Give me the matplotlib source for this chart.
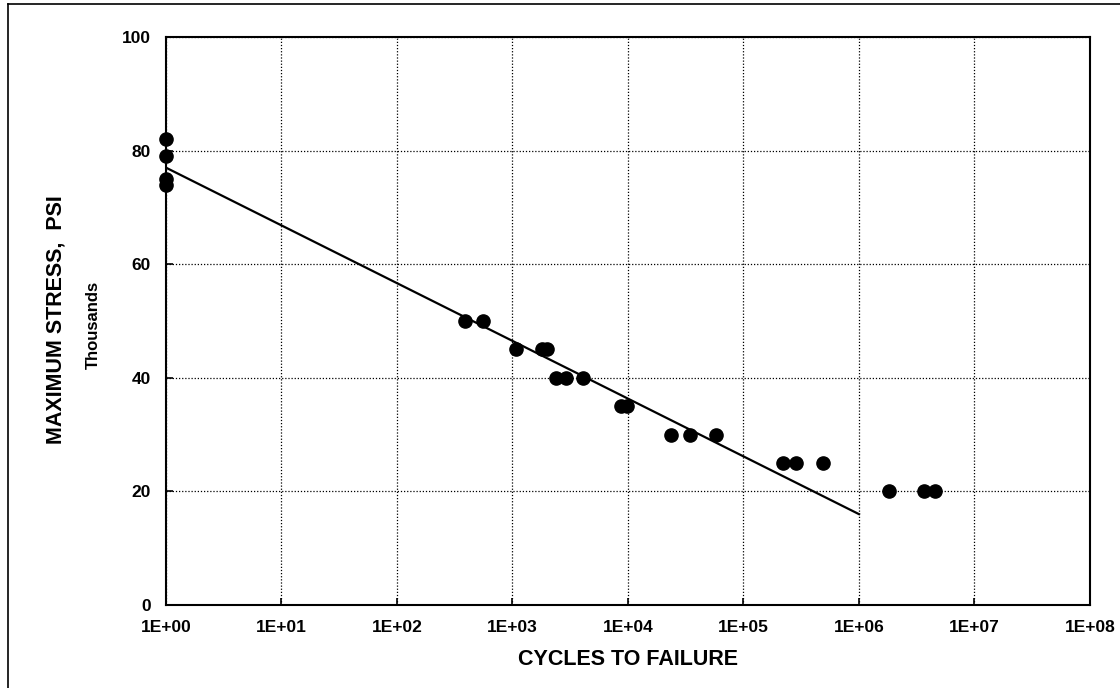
import matplotlib
matplotlib.use("Agg")
import matplotlib.pyplot as plt
from matplotlib.lines import Line2D
from matplotlib.ticker import FixedLocator, FuncFormatter, NullLocator

# fatigue test results: cycles to failure vs maximum stress (thousands of psi)
cycles = [1, 1, 1, 1,
          390, 555,
          1070, 1800, 1990,
          2380, 2900, 4080,
          8700, 9800,
          23500, 34400, 57800,
          220000, 285000, 488000,
          1820000, 3650000, 4550000]
stress = [82, 79, 75, 74,
          50, 50,
          45, 45, 45,
          40, 40, 40,
          35, 35,
          30, 30, 30,
          25, 25, 25,
          20, 20, 20]

# straight-line S-N fit
fit_cycles = [1, 1e6]
fit_stress = [77.0, 16.0]

x_ticks = [10.0 ** k for k in range(9)]
y_ticks = [0, 20, 40, 60, 80, 100]

plt.rcParams["font.family"] = ["Liberation Sans", "DejaVu Sans"]
plt.rcParams["font.weight"] = "bold"

fig = plt.figure(figsize=(11.2, 6.88), dpi=100)
ax = fig.add_axes([0.1482, 0.1206, 0.825, 0.8256])

ax.plot(fit_cycles, fit_stress, color="black", linewidth=1.6, zorder=3)
ax.plot(cycles, stress, linestyle="none", marker="o", markersize=9.5,
        color="black", zorder=4, clip_on=False)

ax.set_xscale("log")
ax.set_xlim(1, 1e8)
ax.set_ylim(0, 100)
ax.xaxis.set_major_locator(FixedLocator(x_ticks))
ax.xaxis.set_minor_locator(NullLocator())
ax.xaxis.set_major_formatter(FuncFormatter(lambda v, p: "1E+%02d" % round(__import__("math").log10(v))))
ax.yaxis.set_major_locator(FixedLocator(y_ticks))

ax.grid(True, which="major", color="black", linestyle=(0, (1, 1.5)), linewidth=0.9)
ax.set_axisbelow(True)
for s in ax.spines.values():
    s.set_linewidth(1.5)

ax.tick_params(direction="in", length=5, width=1.2, labelsize=12.5, pad=11)
for lbl in ax.get_xticklabels() + ax.get_yticklabels():
    lbl.set_fontweight("bold")

ax.set_xlabel("CYCLES TO FAILURE", fontsize=15.5, fontweight="bold", labelpad=10)
fig.text(56 / 1120, 1 - 320 / 688, "MAXIMUM STRESS,  PSI", rotation=90,
         fontsize=15.5, fontweight="bold", ha="center", va="center")
fig.text(93 / 1120, 1 - 325 / 688, "Thousands", rotation=90,
         fontsize=12, fontweight="bold", ha="center", va="center")

# outer frame (top and left edges)
fig.add_artist(Line2D([8 / 1120, 1.0], [1 - 4 / 688, 1 - 4 / 688],
                      transform=fig.transFigure, color="black", linewidth=1.2))
fig.add_artist(Line2D([8 / 1120, 8 / 1120], [0.0, 1 - 4 / 688],
                      transform=fig.transFigure, color="black", linewidth=1.2))

fig.savefig("out.png", dpi=100)
